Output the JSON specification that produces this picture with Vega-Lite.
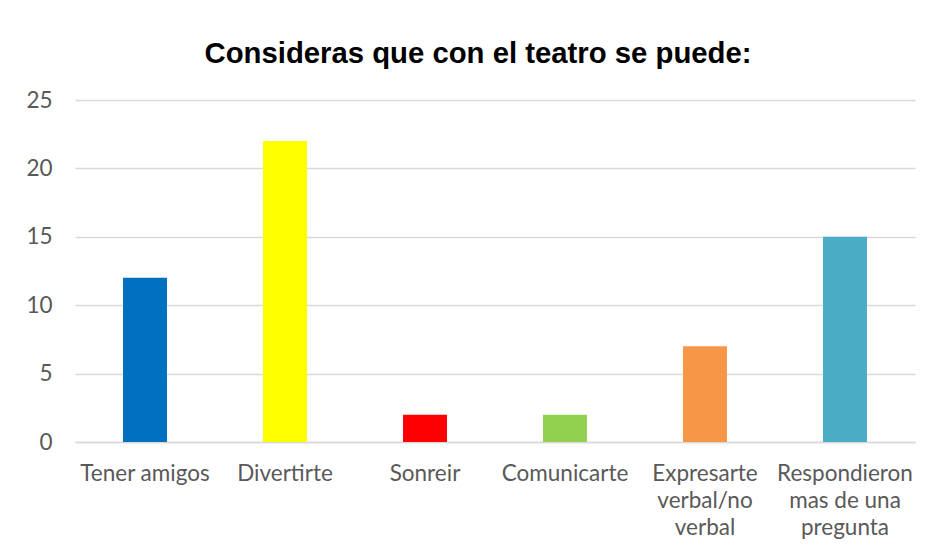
{
  "$schema": "https://vega.github.io/schema/vega-lite/v6.json",
  "width": 840,
  "height": 342,
  "autosize": {"type": "none"},
  "padding": {"left": 75, "top": 100, "right": 14, "bottom": 111},
  "background": "white",
  "title": {
    "text": "Consideras que con el teatro se puede:",
    "font": "Liberation Sans",
    "fontSize": 29.3,
    "fontWeight": "bold",
    "color": "#000000",
    "anchor": "middle",
    "dx": -17,
    "offset": 20
  },
  "data": {
    "values": [
      {"categoria": "Tener amigos", "valor": 12},
      {"categoria": "Divertirte", "valor": 22},
      {"categoria": "Sonreir", "valor": 2},
      {"categoria": "Comunicarte", "valor": 2},
      {"categoria": "Expresarte\nverbal/no\nverbal", "valor": 7},
      {"categoria": "Respondieron\nmas de una\npregunta", "valor": 15}
    ]
  },
  "mark": {"type": "bar"},
  "encoding": {
    "x": {
      "field": "categoria",
      "type": "nominal",
      "sort": null,
      "scale": {"paddingInner": 0.686, "paddingOuter": 0.343},
      "axis": {
        "title": null,
        "labelAngle": 0,
        "labelExpr": "split(datum.value, '\\n')",
        "labelFont": "Lato",
        "labelFontSize": 22.5,
        "labelColor": "#595959",
        "labelLineHeight": 27,
        "labelPadding": 20,
        "labelBaseline": "top",
        "ticks": false,
        "domain": true,
        "domainColor": "#D9D9D9",
        "domainWidth": 1.3,
        "grid": false
      }
    },
    "y": {
      "field": "valor",
      "type": "quantitative",
      "scale": {"domain": [0, 25], "nice": false},
      "axis": {
        "title": null,
        "values": [0, 5, 10, 15, 20, 25],
        "labelFont": "Lato",
        "labelFontSize": 22.5,
        "labelColor": "#595959",
        "labelPadding": 23,
        "ticks": false,
        "domain": false,
        "grid": true,
        "gridColor": "#D9D9D9",
        "gridWidth": 1.3
      }
    },
    "color": {
      "field": "categoria",
      "type": "nominal",
      "sort": null,
      "legend": null,
      "scale": {
        "domain": ["Tener amigos", "Divertirte", "Sonreir", "Comunicarte", "Expresarte\nverbal/no\nverbal", "Respondieron\nmas de una\npregunta"],
        "range": ["#0070C0", "#FFFF00", "#FF0000", "#92D050", "#F79646", "#4BACC6"]
      }
    }
  },
  "config": {"view": {"stroke": null}}
}
